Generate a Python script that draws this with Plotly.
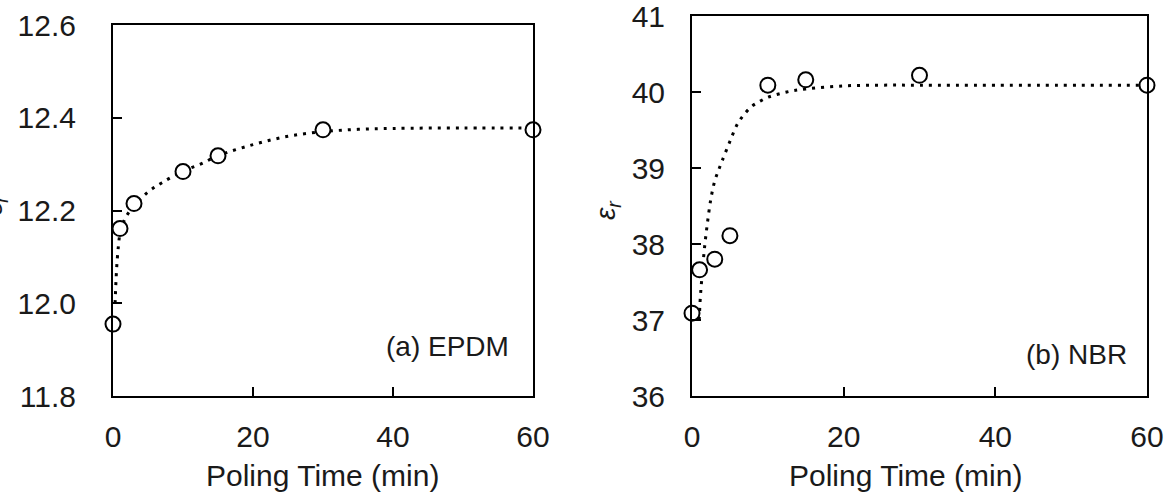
import plotly.graph_objects as go

# ---- data ----
epdm_t = [0, 1, 3, 10, 15, 30, 60]
epdm_eps = [11.955, 12.161, 12.215, 12.284, 12.318, 12.374, 12.374]
epdm_fit_t = [0.3, 0.5, 0.75, 1, 1.5, 2, 3, 5, 7, 10, 12.5, 15, 20, 25, 30, 35, 40, 50, 60]
epdm_fit_eps = [12.00, 12.07, 12.12, 12.15, 12.175, 12.19, 12.21, 12.24, 12.26, 12.285, 12.30,
                12.318, 12.342, 12.36, 12.37, 12.375, 12.377, 12.378, 12.378]

nbr_t = [0, 1, 3, 5, 10, 15, 30, 60]
nbr_eps = [37.09, 37.66, 37.80, 38.11, 40.09, 40.16, 40.22, 40.09]
nbr_fit_t = [0.95, 1.1, 1.3, 1.6, 2.0, 2.5, 3.0, 3.5, 4.0, 5.0, 6.0, 7.0, 8.0, 9.0, 10, 12.5,
             15, 20, 25, 30, 40, 60]
nbr_fit_eps = [37.0, 37.3, 37.55, 37.9, 38.25, 38.6, 38.83, 38.97, 39.1, 39.35, 39.58, 39.72,
               39.82, 39.88, 39.93, 40.0, 40.04, 40.08, 40.09, 40.09, 40.09, 40.09]

x_ticks = [0, 20, 40, 60]
epdm_yticks = [11.8, 12.0, 12.2, 12.4, 12.6]
nbr_yticks = [36, 37, 38, 39, 40, 41]

W, H = 1164, 493
FONT = "Liberation Sans, Arial, sans-serif"
FS = 30
TXT = "#1a1a1a"

fig = go.Figure()

line_style = dict(color="black", width=3, dash="3px,6px")
marker_style = dict(symbol="circle", size=15, color="white", line=dict(color="black", width=2))

fig.add_trace(go.Scatter(x=epdm_fit_t, y=epdm_fit_eps, mode="lines", line=line_style,
                         xaxis="x", yaxis="y", showlegend=False, line_shape="spline"))
fig.add_trace(go.Scatter(x=epdm_t, y=epdm_eps, mode="markers", marker=marker_style,
                         xaxis="x", yaxis="y", showlegend=False, cliponaxis=False))
fig.add_trace(go.Scatter(x=nbr_fit_t, y=nbr_fit_eps, mode="lines", line=line_style,
                         xaxis="x2", yaxis="y2", showlegend=False, line_shape="spline"))
fig.add_trace(go.Scatter(x=nbr_t, y=nbr_eps, mode="markers", marker=marker_style,
                         xaxis="x2", yaxis="y2", showlegend=False, cliponaxis=False))

def px_x(p):
    return p / W

def px_y(p):
    return 1 - p / H

axis_common = dict(showline=True, linecolor="black", linewidth=2, mirror=True,
                   ticks="inside", ticklen=9, tickwidth=2, tickcolor="black",
                   showgrid=False, zeroline=False, automargin=False,
                   ticklabeloverflow="allow",
                   tickfont=dict(family=FONT, size=FS, color=TXT))

fig.update_layout(
    width=W, height=H,
    margin=dict(l=0, r=0, t=0, b=0),
    paper_bgcolor="white", plot_bgcolor="white",
    xaxis=dict(domain=[px_x(113), px_x(533)], range=[0, 60], tickvals=x_ticks,
               anchor="y", ticklabelstandoff=13, **axis_common),
    yaxis=dict(domain=[px_y(396), px_y(25)], range=[11.8, 12.6], tickvals=epdm_yticks,
               tickformat=".1f", anchor="x", ticklabelstandoff=29, **axis_common),
    xaxis2=dict(domain=[px_x(692), px_x(1147)], range=[0, 60], tickvals=x_ticks,
                anchor="y2", ticklabelstandoff=13, **axis_common),
    yaxis2=dict(domain=[px_y(396), px_y(16)], range=[36, 41], tickvals=nbr_yticks,
                anchor="x2", ticklabelstandoff=19, **axis_common),
)

ann_font = dict(family=FONT, size=FS, color=TXT)
fig.add_annotation(text="Poling Time (min)", x=px_x(322), y=px_y(475), xref="paper", yref="paper",
                   showarrow=False, font=ann_font, xanchor="center", yanchor="middle")
fig.add_annotation(text="Poling Time (min)", x=px_x(905), y=px_y(475), xref="paper", yref="paper",
                   showarrow=False, font=ann_font, xanchor="center", yanchor="middle")
fig.add_annotation(text="<i>ε<sub>r</sub></i>", x=px_x(607), y=px_y(210), xref="paper", yref="paper",
                   showarrow=False, font=dict(family=FONT, size=28, color=TXT), textangle=-90,
                   xanchor="center", yanchor="middle")
fig.add_annotation(text="<i>ε<sub>r</sub></i>", x=px_x(-6), y=px_y(205), xref="paper", yref="paper",
                   showarrow=False, font=dict(family=FONT, size=28, color=TXT), textangle=-90,
                   xanchor="center", yanchor="middle")
fig.add_annotation(text="(a) EPDM", x=px_x(447), y=px_y(346), xref="paper", yref="paper",
                   showarrow=False, font=dict(family=FONT, size=28, color=TXT),
                   xanchor="center", yanchor="middle")
fig.add_annotation(text="(b) NBR", x=px_x(1076), y=px_y(354), xref="paper", yref="paper",
                   showarrow=False, font=dict(family=FONT, size=28, color=TXT),
                   xanchor="center", yanchor="middle")

fig.write_html("out.html")
